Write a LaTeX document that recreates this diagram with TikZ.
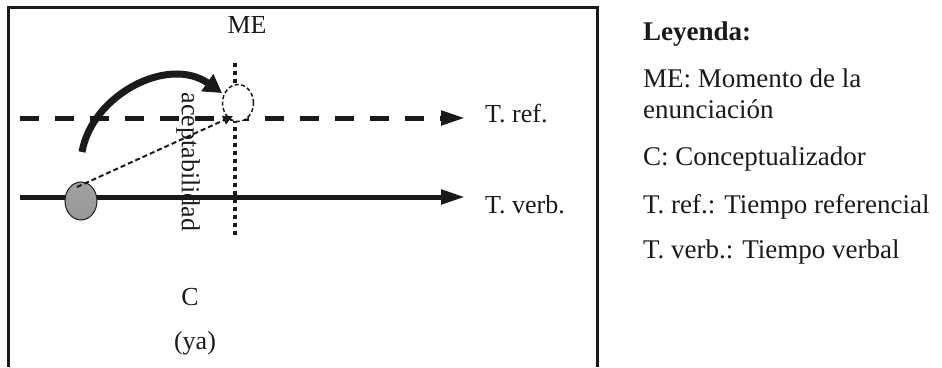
\documentclass[tikz,border=0pt]{standalone}
\usepackage{fontspec}
\setmainfont{Liberation Serif}
\usetikzlibrary{arrows.meta,shapes.geometric}
\definecolor{ink}{HTML}{1A1A1A}
\definecolor{ballgray}{HTML}{8A8A8A}
\begin{document}
\begin{tikzpicture}[x=1pt,y=-1pt,
  diag/.style={font=\fontsize{26}{30}\selectfont, text=ink, inner sep=0pt},
  legend/.style={font=\fontsize{27}{31}\selectfont, text=ink, inner sep=0pt, anchor=base west},
  timeline/.style={draw=ink, line width=5pt, -{Triangle[length=24pt,width=14pt]}},
  refline/.style={timeline, dash pattern=on 19pt off 16pt},
  head/.style={-{Triangle[length=10pt,width=9pt]}}
]
\useasboundingbox (0,0) rectangle (942,367);

% frame, open at the bottom
\draw[ink, line width=3pt] (8,367) -- (8,7) -- (597,7) -- (597,367);

% coordinates of the time lines
\coordinate (refstart) at (20,118);
\coordinate (refend) at (465,118);
\coordinate (verbstart) at (20,197);
\coordinate (verbend) at (465,197);
\coordinate (metop) at (235,63);
\coordinate (mebot) at (235,238);

% reference time (dashed) and verbal time (solid)
\draw[refline] (refstart) -- (refend);
\draw[timeline] (verbstart) -- (verbend);

% moment of utterance (dotted vertical)
\draw[ink, line width=4.5pt, dash pattern=on 4pt off 4pt] (metop) -- (mebot);

% reference point on the reference line
\node[ellipse, draw=ink, fill=white, line width=1.5pt, dash pattern=on 4pt off 2.5pt,
      minimum width=31pt, minimum height=37pt, inner sep=0pt] (refpt) at (238,103) {};

% conceptualiser on the verbal line
\node[ellipse, draw=ink, line width=1pt, top color=ballgray!80, bottom color=ballgray!110!black,
      minimum width=32pt, minimum height=38pt, inner sep=0pt] (conc) at (81,201) {};

% thin dashed arrow from the conceptualiser towards the reference point
\coordinate (ctop) at (77,187);
\coordinate (rtip) at (233,116);
\draw[ink, line width=2pt, dash pattern=on 5pt off 3pt, head] (ctop) -- (rtip);

% thick curved arrow
\coordinate (cstart) at (82,152);
\coordinate (cend) at (222,93);
\draw[ink, line width=7pt, -{Triangle[length=18pt,width=20pt]}]
  (cstart) .. controls (92,95) and (168,55) .. (cend);

% labels
\node[diag] (me) at (247,25) {ME};
\node[diag, anchor=west] (tref) at (485,114) {T. ref.};
\node[diag, anchor=west] (tverb) at (485,205) {T. verb.};
\node[diag, rotate=-90] (acep) at (188,162) {aceptabilidad};
\node[diag] (c) at (190,297) {C};
\node[diag] (ya) at (195,343) {(ya)};

% legend
\node[legend, font=\fontsize{27}{31}\selectfont\bfseries] (leg0) at (643,40) {Leyenda:};
\node[legend] (leg1) at (643,87) {ME: Momento de la};
\node[legend] (leg1b) at (643,118) {enunciación};
\node[legend] (leg2) at (643,165) {C: Conceptualizador};
\node[legend] (leg3) at (643,213) {T. ref.: Tiempo referencial};
\node[legend] (leg4) at (643,258) {T. verb.: Tiempo verbal};
\end{tikzpicture}
\end{document}
